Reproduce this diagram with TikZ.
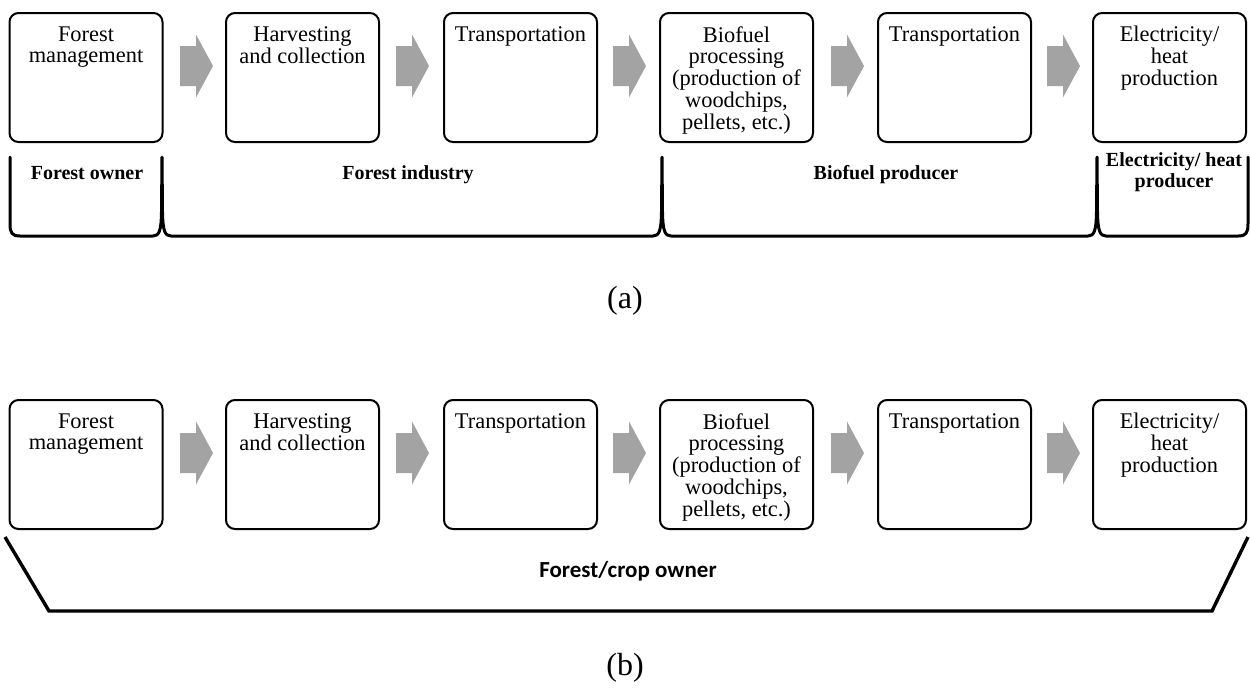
\documentclass[tikz,border=0pt]{standalone}
\usepackage{fontspec}
\setmainfont{Liberation Serif}
\newfontfamily\calibfont{Carlito}
\definecolor{arrowgray}{RGB}{163,163,163}
\begin{document}
\begin{tikzpicture}[x=0.5pt,y=-0.5pt,
  stagebox/.style={draw, line width=1pt, rounded corners=4.5pt, minimum width=76.5pt, minimum height=64.5pt, inner sep=0pt},
  stagetext/.style={anchor=north, align=center, inner sep=0pt, font=\fontsize{11.2}{10.9}\selectfont},
  flowarrow/.style={fill=arrowgray, draw=none},
  bracketline/.style={line width=1.5pt, line join=round, line cap=round},
  rolelabel/.style={font=\fontsize{10}{10.6}\selectfont\bfseries, align=center, inner sep=0pt},
  caption/.style={font=\fontsize{16}{16}\selectfont, inner sep=0pt}]
\useasboundingbox (0,0) rectangle (1250,693);

% ---------- row (a) and row (b) boxes ----------
\foreach \r/\cy in {a/77.5, b/464.5}{
  \foreach \n/\cx/\t in {1/86/{Forest\\management},
                         2/302.5/{Harvesting\\and collection},
                         3/520.5/{Transportation},
                         4/736.5/{Biofuel\\processing\\(production of\\woodchips,\\pellets, etc.)},
                         5/954.5/{Transportation},
                         6/1169.5/{Electricity/\\heat\\production}}{
    \node[stagebox] (\r box\n) at (\cx,\cy) {};
    \node[stagetext] (\r txt\n) at ([yshift=-7pt]\r box\n.north) {\t};
  }
}

% ---------- gray block arrows ----------
\foreach \y in {66,453}{
  \foreach \x in {180,396,613,831,1047}{
    \fill[flowarrow] (\x,{\y-20}) -- ({\x+16},{\y-20}) -- ({\x+16},{\y-31.5}) -- ({\x+33},\y)
      -- ({\x+16},{\y+31.5}) -- ({\x+16},{\y+20}) -- (\x,{\y+20}) -- cycle;
  }
}

% ---------- brackets row (a) ----------
\draw[bracketline] (10,157) -- (10,224) .. controls (10,233) and (12,236) .. (20,236)
  -- (153,236) .. controls (159,236) and (161.2,231) .. (161.5,212) -- (162,157) -- (162.5,212)
  .. controls (162.8,231) and (165,236) .. (171,236)
  -- (653,236) .. controls (659,236) and (661.2,231) .. (661.5,212) -- (662,157) -- (662.5,212)
  .. controls (662.8,231) and (665,236) .. (671,236)
  -- (1088,236) .. controls (1094,236) and (1096.2,231) .. (1096.5,212) -- (1097,157) -- (1097.5,212)
  .. controls (1097.8,231) and (1100,236) .. (1106,236)
  -- (1238,236) .. controls (1246,236) and (1248,233) .. (1248,224) -- (1248,157);

\node[rolelabel, anchor=base] (role1) at (87,179) {Forest owner};
\node[rolelabel, anchor=base] (role2) at (408,179) {Forest industry};
\node[rolelabel, anchor=base] (role3) at (886,179) {Biofuel producer};
\node[rolelabel, anchor=north] (role4) at (1174,152) {Electricity/ heat\\producer};

\node[caption] (capa) at (625,301) {(a)};

% ---------- bracket row (b) ----------
\draw[line width=1.7pt, line join=miter] (5,537) -- (49,611) -- (1212,611) -- (1248,537);
\node[font=\calibfont\bfseries\fontsize{11.5}{12}\selectfont, anchor=base, inner sep=0pt] (owner) at (628,577) {Forest/crop owner};

\node[caption] (capb) at (625,668) {(b)};
\end{tikzpicture}
\end{document}
